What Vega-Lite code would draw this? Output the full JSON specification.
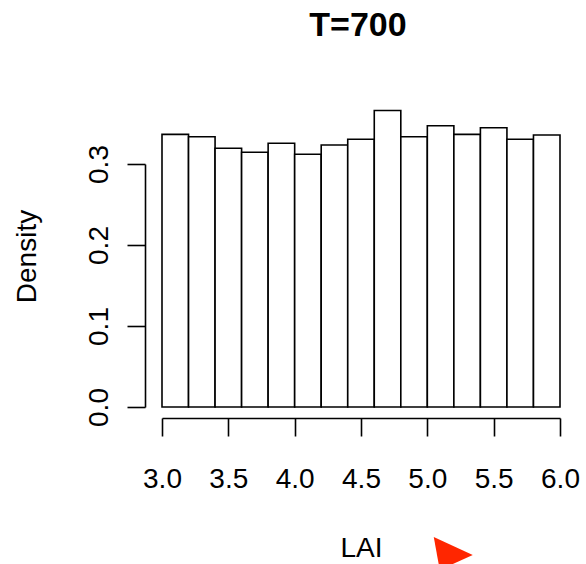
{
  "$schema": "https://vega.github.io/schema/vega-lite/v6.json",
  "width": 398,
  "height": 243,
  "autosize": {"type": "none"},
  "padding": {"left": 162, "top": 164, "right": 26, "bottom": 157},
  "background": "white",
  "title": {
    "text": "T=700",
    "font": "Liberation Sans",
    "fontSize": 34,
    "fontWeight": "bold",
    "color": "black",
    "anchor": "middle",
    "offset": 67,
    "dx": -3
  },
  "config": {
    "view": {"stroke": null},
    "font": "Liberation Sans"
  },
  "layer": [
    {
      "data": {
        "values": [
          {"LAI": 3.0, "LAI_end": 3.2, "Density": 0.3366},
          {"LAI": 3.2, "LAI_end": 3.4, "Density": 0.3337},
          {"LAI": 3.4, "LAI_end": 3.6, "Density": 0.3194},
          {"LAI": 3.6, "LAI_end": 3.8, "Density": 0.3145},
          {"LAI": 3.8, "LAI_end": 4.0, "Density": 0.3256},
          {"LAI": 4.0, "LAI_end": 4.2, "Density": 0.3120},
          {"LAI": 4.2, "LAI_end": 4.4, "Density": 0.3235},
          {"LAI": 4.4, "LAI_end": 4.6, "Density": 0.3305},
          {"LAI": 4.6, "LAI_end": 4.8, "Density": 0.3660},
          {"LAI": 4.8, "LAI_end": 5.0, "Density": 0.3337},
          {"LAI": 5.0, "LAI_end": 5.2, "Density": 0.3472},
          {"LAI": 5.2, "LAI_end": 5.4, "Density": 0.3366},
          {"LAI": 5.4, "LAI_end": 5.6, "Density": 0.3448},
          {"LAI": 5.6, "LAI_end": 5.8, "Density": 0.3305},
          {"LAI": 5.8, "LAI_end": 6.0, "Density": 0.3358}
        ]
      },
      "mark": {"type": "rect", "fill": "white", "stroke": "black", "strokeWidth": 1.6},
      "encoding": {
        "x": {
          "field": "LAI",
          "type": "quantitative",
          "scale": {"domain": [3, 6], "nice": false, "zero": false},
          "axis": {
            "values": [3, 3.5, 4, 4.5, 5, 5.5, 6],
            "format": ".1f",
            "offset": 11,
            "domainColor": "black",
            "domainWidth": 1.6,
            "tickColor": "black",
            "tickWidth": 1.6,
            "tickSize": 18,
            "grid": false,
            "labelFont": "Liberation Sans",
            "labelFontSize": 28,
            "labelColor": "black",
            "labelPadding": 29,
            "labelBaseline": "top",
            "labelFlush": false,
            "labelOverlap": false,
            "title": "LAI",
            "titleFont": "Liberation Sans",
            "titleFontSize": 28,
            "titleFontWeight": "normal",
            "titleColor": "black",
            "titleBaseline": "alphabetic",
            "titleY": 138
          }
        },
        "x2": {"field": "LAI_end"},
        "y": {
          "field": "Density",
          "type": "quantitative",
          "scale": {"domain": [0, 0.3], "nice": false},
          "axis": {
            "values": [0, 0.1, 0.2, 0.3],
            "format": ".1f",
            "offset": 17,
            "domainColor": "black",
            "domainWidth": 1.6,
            "tickColor": "black",
            "tickWidth": 1.6,
            "tickSize": 18,
            "grid": false,
            "labelFont": "Liberation Sans",
            "labelFontSize": 28,
            "labelColor": "black",
            "labelAngle": 270,
            "labelAlign": "center",
            "labelBaseline": "alphabetic",
            "labelPadding": 20,
            "labelFlush": false,
            "labelOverlap": false,
            "title": "Density",
            "titleFont": "Liberation Sans",
            "titleFontSize": 28,
            "titleFontWeight": "normal",
            "titleColor": "black",
            "titleAngle": 270,
            "titleAlign": "center",
            "titleBaseline": "alphabetic",
            "titleX": -110,
            "titleY": 92
          }
        },
        "y2": {"datum": 0}
      }
    },
    {
      "data": {"values": [{"LAI": 5.169, "Density": -0.1765}]},
      "mark": {
        "type": "point",
        "shape": "M -0.8 -0.65 L 1.15 0.25 L -0.5 1 Z",
        "filled": true,
        "fill": "#ff2600",
        "fillOpacity": 1,
        "strokeWidth": 0,
        "size": 1600
      },
      "encoding": {
        "x": {"field": "LAI", "type": "quantitative"},
        "y": {"field": "Density", "type": "quantitative"}
      }
    }
  ]
}
